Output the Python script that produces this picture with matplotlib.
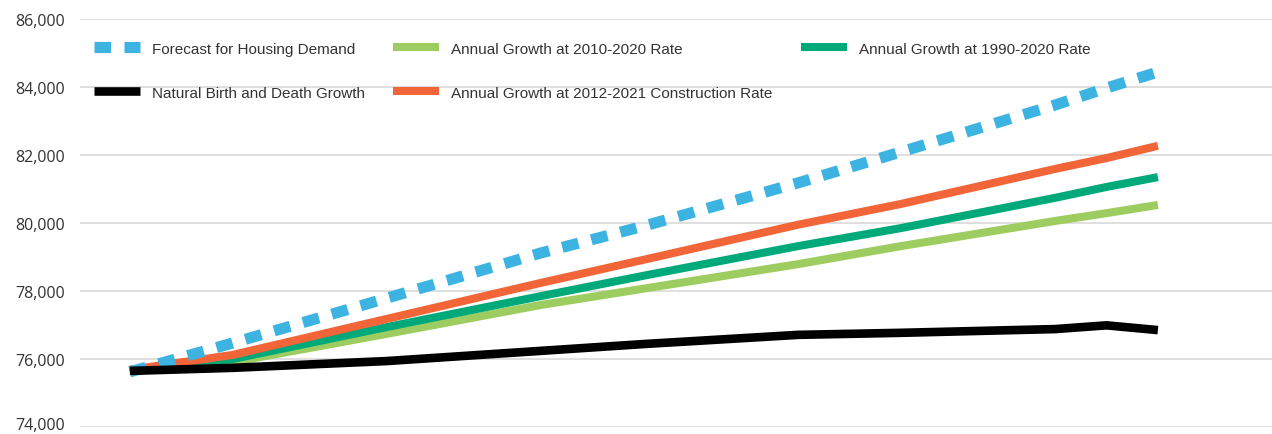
import matplotlib
matplotlib.use("Agg")
import matplotlib.pyplot as plt
import matplotlib.transforms as mtransforms
from matplotlib.ticker import FuncFormatter

years = [2020, 2022, 2025, 2028, 2030, 2033, 2035, 2038, 2039, 2040]

forecast_demand = [75620, 76470, 77790, 79120, 79910, 81180, 82090, 83470, 83970, 84440]
rate_2010_2020 = [75650, 75910, 76740, 77590, 78070, 78790, 79320, 80060, 80290, 80530]
rate_1990_2020 = [75680, 76000, 76940, 77850, 78450, 79320, 79850, 80740, 81060, 81350]
rate_construction = [75680, 76120, 77180, 78240, 78920, 79950, 80560, 81590, 81910, 82270]
natural_growth = [75650, 75740, 75940, 76240, 76440, 76710, 76770, 76880, 76990, 76850]

y_ticks = [74000, 76000, 78000, 80000, 82000, 84000, 86000]

fig = plt.figure(figsize=(12.72, 4.35), dpi=100)
ax = fig.add_axes([80 / 1272, 1 - 428 / 435, 1 - 80 / 1272, 408 / 435])

lw = 5.8
l_green, = ax.plot(years, rate_2010_2020, color='#9dcd60', lw=lw,
                   solid_capstyle='butt', label='Annual Growth at 2010-2020 Rate')
l_teal, = ax.plot(years, rate_1990_2020, color='#00a97a', lw=lw,
                  solid_capstyle='butt', label='Annual Growth at 1990-2020 Rate')
l_orange, = ax.plot(years, rate_construction, color='#f26538', lw=lw,
                    solid_capstyle='butt', label='Annual Growth at 2012-2021 Construction Rate')
l_blue, = ax.plot(years, forecast_demand, color='#3cb3e1', lw=8,
                  linestyle=(0, (1.5, 1.2)), dash_capstyle='butt',
                  label='Forecast for Housing Demand')
l_black, = ax.plot(years, natural_growth, color='black', lw=6.2,
                   solid_capstyle='butt', label='Natural Birth and Death Growth')

ax.set_xlim(2019.03, 2042.22)
ax.set_ylim(74000, 86000)
ax.set_yticks(y_ticks)
ax.yaxis.set_major_formatter(FuncFormatter(lambda v, p: '{:,.0f}'.format(v)))
ax.set_xticks([])
ax.grid(axis='y', color='#d9d9d9', lw=1.2)
ax.set_axisbelow(True)
for s in ax.spines.values():
    s.set_visible(False)
ax.tick_params(axis='y', length=0, pad=11, labelsize=11.5, labelcolor='#333333')
for t in ax.get_yticklabels():
    t.set_fontfamily(['Open Sans', 'DejaVu Sans'])

# bottom label sits right on the figure edge; nudge it up a touch
bottom_lbl = ax.get_yticklabels()[0]
bottom_lbl.set_transform(bottom_lbl.get_transform() +
                         mtransforms.ScaledTranslation(0, 3 / 72, fig.dpi_scale_trans))

handles = [l_blue, l_black, l_green, l_orange, l_teal]
leg = ax.legend(handles=handles, ncol=3, loc='upper left',
                bbox_to_anchor=(0.0, 0.978), frameon=False,
                prop={'family': ['Liberation Sans', 'DejaVu Sans'], 'size': 11},
                handlelength=3.0, handletextpad=0.8, columnspacing=1.85,
                labelspacing=1.95)
for t in leg.get_texts():
    t.set_color('#333333')

fig.savefig('out.png', dpi=100)
